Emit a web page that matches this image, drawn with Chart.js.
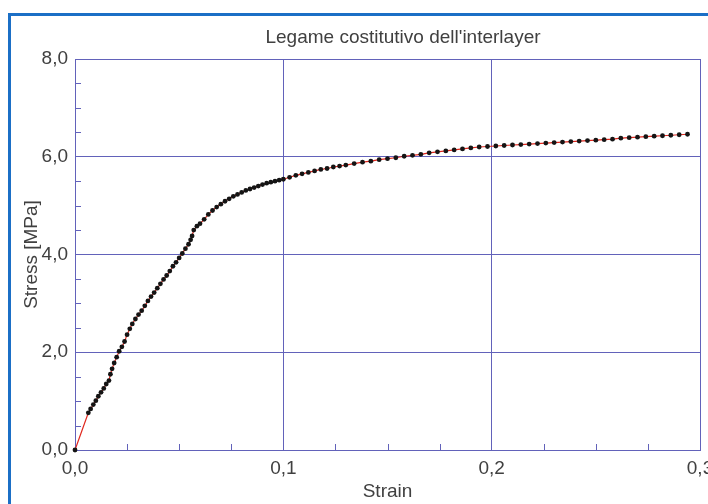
<!DOCTYPE html>
<html>
<head>
<meta charset="utf-8">
<script src="https://cdn.jsdelivr.net/npm/chart.js@4/dist/chart.umd.min.js"></script>
<style>
  html, body { margin: 0; padding: 0; background: #fff; overflow: hidden; }
  #wrap { position: relative; width: 708px; height: 504px; }
  #frame { position: absolute; left: 8px; top: 13px; width: 720px; height: 600px; border: 3px solid #1b6fc6; }
  canvas { position: absolute; left: 0; top: 0; }
</style>
</head>
<body>
<div id="wrap">
  <div id="frame"></div>
  <canvas id="chart" width="708" height="504"></canvas>
</div>
<script>
// valori
const strain = [
  0, 0.0064, 0.0075, 0.0088, 0.0100, 0.0112, 0.0125, 0.0138, 0.0150, 0.0163,
  0.0170, 0.0178, 0.0188, 0.0200, 0.0212, 0.0225, 0.0238, 0.0250, 0.0263, 0.0275,
  0.0290, 0.0305, 0.0320, 0.0335, 0.0350, 0.0365, 0.0380, 0.0395, 0.0410, 0.0425,
  0.0440, 0.0455, 0.0470, 0.0485, 0.0500, 0.0515, 0.0530, 0.0545, 0.0555, 0.0562,
  0.0570, 0.0585, 0.0600, 0.0620, 0.0640, 0.0660, 0.0680, 0.0700, 0.0720, 0.0740,
  0.0760, 0.0780, 0.0800, 0.0820, 0.0840, 0.0860, 0.0880, 0.0900, 0.0920, 0.0940,
  0.0960, 0.0980, 0.1000, 0.1030, 0.1060, 0.1090, 0.1120, 0.1150, 0.1180, 0.1210,
  0.1240, 0.1270, 0.1300, 0.1340, 0.1380, 0.1420, 0.1460, 0.1500, 0.1540, 0.1580,
  0.1620, 0.1660, 0.1700, 0.1740, 0.1780, 0.1820, 0.1860, 0.1900, 0.1940, 0.1980,
  0.2020, 0.2060, 0.2100, 0.2140, 0.2180, 0.2220, 0.2260, 0.2300, 0.2340, 0.2380,
  0.2420, 0.2460, 0.2500, 0.2540, 0.2580, 0.2620, 0.2660, 0.2700, 0.2740, 0.2780,
  0.2820, 0.2860, 0.2900, 0.2940
];
const stress = [
  0, 0.76, 0.84, 0.93, 1.01, 1.10, 1.18, 1.26, 1.35, 1.42,
  1.55, 1.66, 1.78, 1.90, 2.02, 2.11, 2.22, 2.36, 2.48, 2.58,
  2.68, 2.77, 2.85, 2.95, 3.05, 3.14, 3.22, 3.31, 3.40, 3.49,
  3.57, 3.66, 3.76, 3.84, 3.93, 4.02, 4.12, 4.21, 4.30, 4.38,
  4.50, 4.58, 4.63, 4.72, 4.82, 4.90, 4.97, 5.03, 5.09, 5.14,
  5.19, 5.23, 5.27, 5.31, 5.34, 5.37, 5.40, 5.43, 5.46, 5.48,
  5.50, 5.52, 5.54, 5.58, 5.62, 5.65, 5.68, 5.71, 5.74, 5.76,
  5.79, 5.81, 5.83, 5.86, 5.89, 5.91, 5.94, 5.96, 5.98, 6.01,
  6.03, 6.05, 6.08, 6.10, 6.12, 6.14, 6.16, 6.18, 6.20, 6.21,
  6.22, 6.23, 6.24, 6.25, 6.26, 6.27, 6.28, 6.29, 6.30, 6.31,
  6.32, 6.33, 6.34, 6.35, 6.36, 6.38, 6.39, 6.40, 6.41, 6.42,
  6.43, 6.44, 6.45, 6.46
];
const minorStrainTicks = [0.025, 0.05, 0.075, 0.125, 0.15, 0.175, 0.225, 0.25, 0.275];
const minorStressTicks = [0.5, 1, 1.5, 2.5, 3, 3.5, 4.5, 5, 5.5, 6.5, 7, 7.5];

const axisColor = '#6262ba';
const textColor = '#404040';
const fontFamily = '"Liberation Sans", Arial, sans-serif';

const fmt = v => Number(v).toFixed(1).replace('.', ',');

// tacche secondarie verso l'interno
const minorTicks = {
  id: 'minorTicks',
  beforeDatasetsDraw(chart) {
    const { ctx, chartArea: a, scales: { x, y } } = chart;
    ctx.save();
    ctx.strokeStyle = axisColor;
    ctx.lineWidth = 1;
    ctx.beginPath();
    minorStressTicks.forEach(v => {
      const py = Math.round(y.getPixelForValue(v)) + 0.5;
      ctx.moveTo(a.left, py);
      ctx.lineTo(a.left + 6, py);
    });
    minorStrainTicks.forEach(v => {
      const px = Math.round(x.getPixelForValue(v)) + 0.5;
      ctx.moveTo(px, a.bottom);
      ctx.lineTo(px, a.bottom - 6);
    });
    ctx.stroke();
    ctx.restore();
  }
};

const chartTitle = {
  id: 'chartTitle',
  afterDraw(chart) {
    const ctx = chart.ctx;
    ctx.save();
    ctx.font = '19px ' + fontFamily;
    ctx.fillStyle = textColor;
    ctx.textAlign = 'center';
    ctx.textBaseline = 'middle';
    ctx.fillText("Legame costitutivo dell'interlayer", 403, 38);
    ctx.restore();
  }
};

new Chart(document.getElementById('chart').getContext('2d'), {
  type: 'scatter',
  data: {
    datasets: [{
      data: strain.map((s, i) => ({ x: s, y: stress[i] })),
      showLine: true,
      borderColor: '#e0281e',
      borderWidth: 1.2,
      pointRadius: 2.4,
      pointBorderWidth: 0,
      pointBackgroundColor: '#141414',
      clip: 4
    }]
  },
  options: {
    responsive: false,
    animation: false,
    layout: { padding: { top: 59, right: 8, bottom: 0, left: 0 } },
    plugins: { legend: { display: false }, tooltip: { enabled: false } },
    scales: {
      x: {
        type: 'linear',
        min: 0, max: 0.3,
        ticks: { stepSize: 0.1, callback: fmt, color: textColor, padding: 7, maxRotation: 0,
                 font: { family: fontFamily, size: 19 } },
        grid: { color: axisColor, lineWidth: 1, drawTicks: false },
        border: { color: axisColor, width: 1 },
        title: { display: true, text: 'Strain', color: textColor, padding: { top: 0, bottom: 1 },
                 font: { family: fontFamily, size: 19 } },
        afterFit(s) { s.height = 54; s.paddingLeft = 0; s.paddingRight = 0; }
      },
      y: {
        min: 0, max: 8,
        ticks: { stepSize: 2, callback: fmt, color: textColor, padding: 7,
                 font: { family: fontFamily, size: 19 } },
        grid: { color: axisColor, lineWidth: 1, drawTicks: false },
        border: { color: axisColor, width: 1 },
        title: { display: true, text: 'Stress [MPa]', color: textColor, padding: { top: 20, bottom: 0 },
                 font: { family: fontFamily, size: 19 } },
        afterFit(s) { s.width = 75; s.paddingTop = 0; s.paddingBottom = 0; }
      }
    }
  },
  plugins: [minorTicks, chartTitle]
});
</script>
</body>
</html>
